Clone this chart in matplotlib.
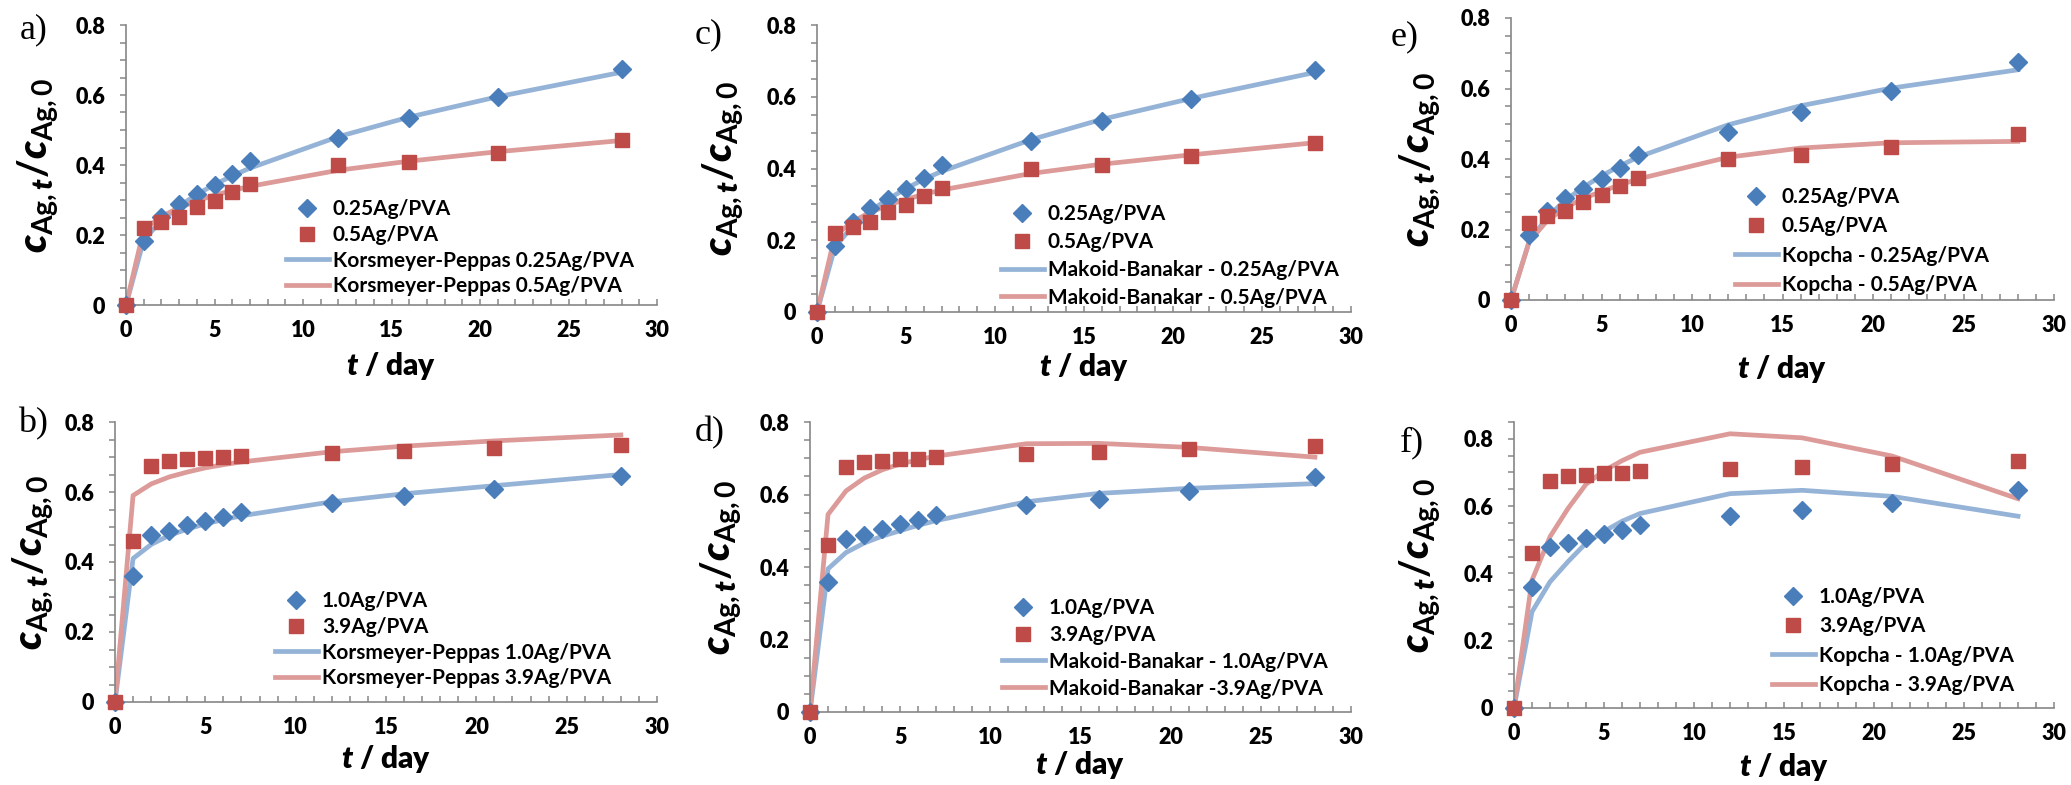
import matplotlib
matplotlib.use("Agg")
import matplotlib.pyplot as plt
from matplotlib.ticker import MultipleLocator
from matplotlib.lines import Line2D

# ---------------- data ----------------
t_day = [0, 1, 2, 3, 4, 5, 6, 7, 12, 16, 21, 28]

ag025 = [0, 0.184, 0.252, 0.289, 0.316, 0.342, 0.374, 0.411, 0.476, 0.533, 0.593, 0.674]
ag05 = [0, 0.219, 0.238, 0.252, 0.279, 0.298, 0.322, 0.347, 0.400, 0.410, 0.434, 0.471]
ag10 = [0, 0.359, 0.478, 0.489, 0.505, 0.518, 0.530, 0.543, 0.570, 0.588, 0.610, 0.647]
ag39 = [0, 0.461, 0.675, 0.690, 0.693, 0.697, 0.699, 0.704, 0.711, 0.717, 0.725, 0.733]

kp025 = [0, 0.185, 0.242, 0.282, 0.316, 0.344, 0.369, 0.391, 0.481, 0.537, 0.595, 0.665]
kp05 = [0, 0.215, 0.253, 0.278, 0.297, 0.314, 0.327, 0.339, 0.385, 0.411, 0.438, 0.470]
kp10 = [0, 0.410, 0.450, 0.476, 0.494, 0.509, 0.521, 0.532, 0.572, 0.595, 0.618, 0.650]
kp39 = [0, 0.590, 0.623, 0.643, 0.657, 0.669, 0.678, 0.686, 0.715, 0.731, 0.746, 0.763]

mb025 = [0, 0.180, 0.240, 0.282, 0.315, 0.344, 0.370, 0.392, 0.480, 0.537, 0.595, 0.668]
mb05 = [0, 0.212, 0.252, 0.278, 0.298, 0.314, 0.328, 0.340, 0.386, 0.412, 0.438, 0.472]
mb10 = [0, 0.395, 0.440, 0.466, 0.485, 0.500, 0.515, 0.528, 0.580, 0.603, 0.617, 0.630]
mb39 = [0, 0.545, 0.610, 0.645, 0.668, 0.684, 0.696, 0.706, 0.740, 0.741, 0.730, 0.703]

kc025 = [0, 0.165, 0.235, 0.283, 0.320, 0.352, 0.380, 0.405, 0.497, 0.551, 0.601, 0.653]
kc05 = [0, 0.165, 0.225, 0.262, 0.288, 0.308, 0.326, 0.343, 0.405, 0.431, 0.446, 0.450]
kc10 = [0, 0.286, 0.375, 0.435, 0.490, 0.525, 0.555, 0.578, 0.637, 0.647, 0.629, 0.570]
kc39 = [0, 0.380, 0.509, 0.593, 0.665, 0.705, 0.735, 0.760, 0.815, 0.803, 0.749, 0.622]

panel_letters = ["a)", "b)", "c)", "d)", "e)", "f)"]
labels_low = ["0.25Ag/PVA", "0.5Ag/PVA"]
labels_high = ["1.0Ag/PVA", "3.9Ag/PVA"]
fit_labels = {
    "a": ["Korsmeyer-Peppas 0.25Ag/PVA", "Korsmeyer-Peppas 0.5Ag/PVA"],
    "b": ["Korsmeyer-Peppas 1.0Ag/PVA", "Korsmeyer-Peppas 3.9Ag/PVA"],
    "c": ["Makoid-Banakar - 0.25Ag/PVA", "Makoid-Banakar - 0.5Ag/PVA"],
    "d": ["Makoid-Banakar - 1.0Ag/PVA", "Makoid-Banakar -3.9Ag/PVA"],
    "e": ["Kopcha - 0.25Ag/PVA", "Kopcha - 0.5Ag/PVA"],
    "f": ["Kopcha - 1.0Ag/PVA", "Kopcha - 3.9Ag/PVA"],
}

# ---------------- style ----------------
plt.rcParams['font.family'] = ['Lato', 'DejaVu Sans']
plt.rcParams['font.weight'] = 'bold'
plt.rcParams['mathtext.fontset'] = 'custom'
plt.rcParams['mathtext.rm'] = 'Lato:bold'
plt.rcParams['mathtext.it'] = 'Lato:italic:heavy'
plt.rcParams['mathtext.bf'] = 'Lato:bold'

W, H = 2071, 785
fig = plt.figure(figsize=(W / 100, H / 100), dpi=100)

BLUE_M = '#4A7EBB'
RED_M = '#BE4B48'
BLUE_L = '#95B3D7'
RED_L = '#DC9A98'
SPINE = '#868686'

# axes pixel boxes: (left, right, top, bottom, ymax)
boxes = {
    "a": (126, 657, 25, 305, 0.8),
    "b": (115, 657, 422, 702, 0.8),
    "c": (817, 1351, 25, 312, 0.8),
    "d": (810, 1351, 422, 712, 0.8),
    "e": (1511, 2054, 18, 300, 0.8),
    "f": (1514, 2054, 422, 708, 0.85),
}
series = {
    "a": (ag025, ag05, kp025, kp05, labels_low),
    "b": (ag10, ag39, kp10, kp39, labels_high),
    "c": (ag025, ag05, mb025, mb05, labels_low),
    "d": (ag10, ag39, mb10, mb39, labels_high),
    "e": (ag025, ag05, kc025, kc05, labels_low),
    "f": (ag10, ag39, kc10, kc39, labels_high),
}
# legend: handle left x, first row top y (px), labelspacing
legpos = {
    "a": (286, 199, 0.28),
    "b": (275, 591, 0.28),
    "c": (1001, 204, 0.38),
    "d": (1002, 598, 0.33),
    "e": (1735, 187, 0.45),
    "f": (1772, 587, 0.45),
}
xlab_y = {"a": 366, "b": 759, "c": 367, "d": 765, "e": 369, "f": 767}
ylab_x = {"a": 38, "b": 33, "c": 723, "d": 721, "e": 1420, "f": 1420}
letter_pos = {"a": (20, 30), "b": (18, 424), "c": (695, 35), "d": (695, 433),
              "e": (1391, 37), "f": (1400, 443)}

for i, key in enumerate(["a", "b", "c", "d", "e", "f"]):
    l, r, tp, bt, ymax = boxes[key]
    ax = fig.add_axes([l / W, 1 - bt / H, (r - l) / W, (bt - tp) / H])
    d1, d2, f1, f2, labs = series[key]
    ax.plot(t_day, f1, color=BLUE_L, lw=3.4, zorder=2, solid_joinstyle='round')
    ax.plot(t_day, f2, color=RED_L, lw=3.4, zorder=2, solid_joinstyle='round')
    ax.plot(t_day, d1, ls='none', marker='D', ms=9.5, color=BLUE_M, zorder=3, clip_on=False)
    ax.plot(t_day, d2, ls='none', marker='s', ms=10, color=RED_M, zorder=4, clip_on=False)
    ax.set_xlim(0, 30)
    ax.set_ylim(0, ymax)
    for s in ['top', 'right']:
        ax.spines[s].set_visible(False)
    for s in ['left', 'bottom']:
        ax.spines[s].set_color(SPINE)
        ax.spines[s].set_linewidth(1.2)
    ax.xaxis.set_major_locator(MultipleLocator(5))
    ax.xaxis.set_minor_locator(MultipleLocator(1))
    ax.yaxis.set_major_locator(MultipleLocator(0.2))
    ax.yaxis.set_minor_locator(MultipleLocator(0.05))
    ax.set_yticks([0, 0.2, 0.4, 0.6, 0.8])
    ax.set_yticklabels(['0', '0.2', '0.4', '0.6', '0.8'])
    ax.tick_params(axis='x', which='both', direction='in', length=4, width=1.1,
                   color=SPINE, labelsize=15.5, pad=11)
    ax.tick_params(axis='y', which='both', direction='out', length=4, width=1.1,
                   color=SPINE, labelsize=15.5, pad=11)
    for lab in ax.get_xticklabels() + ax.get_yticklabels():
        lab.set_fontweight('heavy')
    ax.patch.set_alpha(0)

    ax.set_xlabel(r'$t$ / day', fontsize=21.5, fontweight='heavy', va='center')
    ax.xaxis.set_label_coords(0.5, -(xlab_y[key] - bt) / (bt - tp))
    ax.set_ylabel(r'$c_{\mathrm{Ag,}t}/c_{\mathrm{Ag,0}}$', fontsize=29, va='center')
    ax.yaxis.set_label_coords((ylab_x[key] - l) / (r - l), 0.5)

    handles = [
        Line2D([], [], ls='none', marker='D', ms=9.5, color=BLUE_M),
        Line2D([], [], ls='none', marker='s', ms=10, color=RED_M),
        Line2D([], [], color=BLUE_L, lw=3.4),
        Line2D([], [], color=RED_L, lw=3.4),
    ]
    hx, hy, lsp = legpos[key]
    ax.legend(handles, labs + fit_labels[key], loc='upper left',
              bbox_to_anchor=(hx / W, 1 - hy / H), bbox_transform=fig.transFigure,
              frameon=False, borderpad=0, borderaxespad=0, handlelength=2.05,
              handletextpad=0.2, labelspacing=lsp,
              prop={'family': 'Lato', 'weight': 'bold', 'size': 15})

    lx, ly = letter_pos[key]
    fig.text(lx / W, 1 - ly / H, panel_letters[i], fontsize=26,
             family='Liberation Serif', fontweight='normal', va='center', ha='left')

fig.savefig('out.png', dpi=100)
